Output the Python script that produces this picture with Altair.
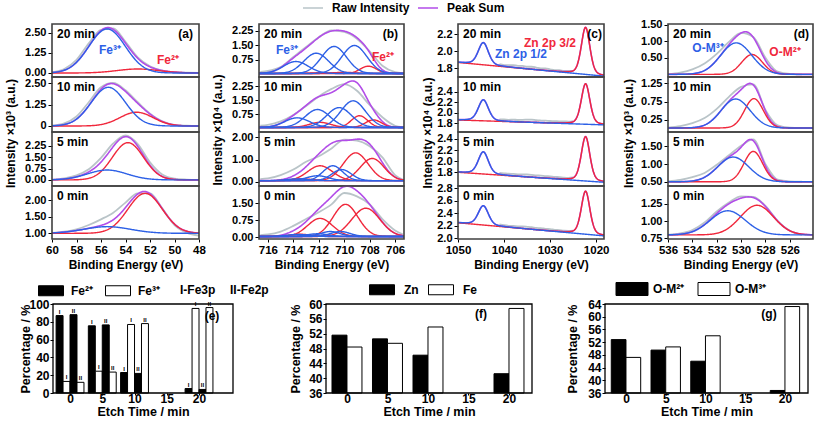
import numpy as np
import pandas as pd
import altair as alt

FONT = "Liberation Sans"
BLUE = "#2d60e6"
RED = "#f0283c"
PURPLE = "#b24de8"
GRAY = "#b9c4c8"
FRAME = "#404040"
W_TOTAL, H_TOTAL = 817, 421

TIMES = ["20 min", "10 min", "5 min", "0 min"]

# layout (pixels)
COL_X = [(52, 199), (259, 404), (458, 604), (668, 813)]
ROW_Y = [(24, 77), (77, 132), (132, 186), (186, 239)]
BAR_X = [(53, 233), (326, 532), (605, 808)]
BAR_Y = (304, 393)

SER_DOM = ["Raw Intensity", "Peak Sum", "B", "R"]
SER_RNG = [GRAY, PURPLE, BLUE, RED]

# ---------------- (a) Fe 3p ----------------
A_XDOM = [60, 48]
A_XTICKS = [60, 58, 56, 54, 52, 50, 48]
A_YDOM = [[-0.25, 3.06], [-0.35, 2.85], [-0.4, 3.15], [0.83, 2.42]]
A_YTICKS = [[0, 1.25, 2.5], [0, 1.25, 2.5], [0, 0.75, 1.5, 2.25], [1.0, 1.5, 2.0]]
A_BASE = [(0.0, 0.0), (0.0, 0.0), (0.0, 0.0), (1.0, 1.0)]
A_FE3 = [[(55.5, 2.75, 3.5)], [(55.4, 2.25, 3.3)], [(55.5, 0.65, 3.8)], [(55.5, 0.20, 4.5)]]
A_FE2 = [[(53.0, 0.25, 4.0)], [(53.1, 0.80, 3.2)], [(53.8, 2.45, 3.0)], [(52.4, 1.20, 3.3)]]
A_RAW_E = [60, 59, 58, 57, 56, 55, 54, 53, 52, 51, 50, 49, 48]
A_RAW = [
    [0.05, 0.25, 0.82, 1.85, 2.70, 2.78, 1.95, 0.98, 0.42, 0.15, 0.05, 0.02, 0.00],
    [0.03, 0.15, 0.55, 1.38, 2.25, 2.50, 2.08, 1.38, 0.72, 0.27, 0.07, 0.02, 0.00],
    [0.02, 0.10, 0.30, 0.70, 1.45, 2.40, 2.92, 2.35, 1.15, 0.35, 0.08, 0.02, 0.00],
    [1.01, 1.05, 1.12, 1.25, 1.42, 1.62, 1.92, 2.20, 2.20, 1.75, 1.25, 1.02, 0.93],
]

# ---------------- (b) Fe 2p ----------------
B_XDOM = [716.7, 705.3]
B_XTICKS = [716, 714, 712, 710, 708, 706]
B_YDOM = [[-0.13, 2.61], [-0.18, 2.73], [-0.19, 2.24], [-0.08, 2.26]]
B_YTICKS = [[0.75, 1.5, 2.25], [0.75, 1.5, 2.25], [0, 1, 2], [0, 0.75, 1.5]]
B_BASE = [(0.05, 0.05), (0.06, 0.06), (0.05, 0.05), (0.03, 0.03)]
B_FE3 = [
    [(713.8, 0.62, 2.3), (712.2, 1.05, 2.3), (710.8, 1.40, 2.3), (709.2, 1.45, 2.3)],
    [(713.7, 0.51, 2.3), (712.1, 0.95, 2.3), (710.4, 1.05, 2.3), (709.3, 1.41, 2.3)],
    [(713.7, 0.08, 2.0), (712.1, 0.22, 2.0), (710.9, 0.67, 1.8), (710.2, 0.50, 1.8)],
    [(713.7, 0.09, 2.0), (712.1, 0.12, 2.0), (711.1, 0.22, 1.8), (710.3, 0.22, 1.8)],
]
B_FE2 = [
    [(708.1, 0.38, 1.5), (710.0, 0.06, 2.0), (711.8, 0.04, 2.0)],
    [(711.9, 0.27, 2.0), (708.8, 0.62, 1.5), (707.7, 0.40, 1.5)],
    [(713.3, 0.08, 2.0), (711.9, 0.67, 2.3), (709.1, 1.25, 2.3), (707.8, 1.00, 2.2)],
    [(713.5, 0.10, 2.0), (711.9, 0.80, 2.3), (709.9, 1.42, 2.3), (708.3, 1.25, 2.6)],
]
B_RAW_E = [716.6, 716, 715, 714, 713, 712, 711, 710, 709, 708, 707, 706, 705.4]
B_RAW = [
    [0.14, 0.18, 0.38, 0.90, 1.42, 1.92, 2.28, 2.20, 1.85, 1.20, 0.45, 0.12, 0.07],
    [0.16, 0.20, 0.38, 0.72, 1.20, 1.70, 2.10, 2.35, 2.00, 1.25, 0.60, 0.15, 0.08],
    [0.12, 0.15, 0.30, 0.55, 0.90, 1.15, 1.50, 1.90, 1.85, 1.60, 1.10, 0.30, 0.10],
    [0.09, 0.12, 0.25, 0.50, 0.80, 1.10, 1.45, 1.95, 1.80, 1.45, 0.80, 0.30, 0.13],
]

# ---------------- (c) Zn 2p ----------------
C_XDOM = [1050, 1018.3]
C_XTICKS = [1050, 1040, 1030, 1020]
C_YDOM = [[1.70, 2.32], [1.635, 2.68], [1.553, 2.526], [1.99, 2.84]]
C_YTICKS = [[1.8, 2.0, 2.2], [1.8, 2.0, 2.2, 2.4], [1.8, 2.0, 2.2, 2.4], [2.0, 2.2, 2.4, 2.6, 2.8]]
C_BASE = [(1.87, 1.71), (1.863, 1.77), (1.80, 1.62), (2.25, 2.04)]
C_ZN12 = [[(1044.5, 0.26, 2.6)], [(1044.5, 0.40, 2.6)], [(1044.5, 0.40, 2.6)], [(1044.5, 0.31, 2.6)]]
C_ZN32 = [[(1022.3, 0.55, 2.2)], [(1022.3, 0.77, 2.2)], [(1022.3, 0.80, 2.2)], [(1022.3, 0.69, 2.2)]]
C_RAW_E = [1041, 1040, 1039, 1038, 1037, 1036, 1035, 1034, 1033, 1032, 1031, 1030, 1029, 1028, 1027, 1026, 1025]
C_RAW = [
    [1.85, 1.84, 1.84, 1.84, 1.83, 1.83, 1.82, 1.82, 1.81, 1.80, 1.80, 1.79, 1.78, 1.78, 1.77, 1.77, 1.77],
    [1.873, 1.873, 1.867, 1.872, 1.863, 1.867, 1.869, 1.871, 1.858, 1.853, 1.851, 1.844, 1.842, 1.836, 1.836, 1.833, 1.843],
    [1.790, 1.782, 1.774, 1.771, 1.764, 1.760, 1.760, 1.754, 1.743, 1.741, 1.731, 1.726, 1.717, 1.713, 1.705, 1.701, 1.708],
    [2.223, 2.211, 2.202, 2.199, 2.194, 2.192, 2.186, 2.179, 2.168, 2.164, 2.153, 2.148, 2.137, 2.132, 2.123, 2.121, 2.125],
]

# ---------------- (d) O 1s ----------------
D_XDOM = [536, 524.1]
D_XTICKS = [536, 534, 532, 530, 528, 526]
D_YDOM = [[-0.08, 1.52], [-0.08, 1.42], [0.38, 1.91], [0.74, 1.51]]
D_YTICKS = [[0.5, 1.0, 1.5], [0.25, 0.75, 1.25], [0.5, 1.0, 1.5], [0.75, 1.0, 1.25]]
D_BASE = [(0.0, 0.0), (0.03, 0.03), (0.5, 0.5), (0.8, 0.8)]
D_M3 = [[(530.4, 0.95, 3.0)], [(530.45, 0.79, 2.8)], [(530.65, 0.70, 3.0)], [(531.1, 0.35, 3.4)]]
D_M2 = [[(529.1, 0.60, 2.0)], [(528.95, 0.80, 1.8)], [(529.0, 0.86, 1.8)], [(528.7, 0.43, 3.2)]]
D_RAW_E = [536, 535, 534, 533, 532, 531, 530, 529, 528, 527, 526, 525]
D_RAW = [
    [0.00, 0.05, 0.15, 0.33, 0.62, 0.98, 1.25, 1.13, 0.50, 0.08, 0.01, 0.00],
    [0.04, 0.08, 0.16, 0.30, 0.55, 0.88, 1.15, 1.22, 0.52, 0.10, 0.04, 0.03],
    [0.51, 0.55, 0.63, 0.75, 0.98, 1.25, 1.52, 1.70, 1.00, 0.56, 0.51, 0.50],
    [0.80, 0.82, 0.87, 0.98, 1.14, 1.27, 1.36, 1.35, 1.22, 1.00, 0.86, 0.80],
]

# ---------------- bar panels ----------------
ETCH = [0, 5, 10, 20]
E_FE2_I = [87, 75.5, 23, 5]
E_FE3_I = [13, 24.5, 77, 95]
E_FE2_II = [88, 76.5, 22, 4]
E_FE3_II = [12, 23.5, 78, 96]
E_KINDS = ["Fe²⁺", "Fe³⁺"]
E_GROUPS = ["I", "II"]
F_ZN = [51.6, 50.6, 46.2, 41.2]
F_FE = [48.4, 49.4, 53.8, 58.8]
F_KINDS = ["Zn", "Fe"]
G_M2 = [52.8, 49.5, 46.0, 36.8]
G_M3 = [47.2, 50.5, 54.0, 63.2]
G_KINDS = ["O-M²⁺", "O-M³⁺"]


def gauss(E, c, h, w):
    return h * np.exp(-4 * np.log(2) * ((E - c) / w) ** 2)


def pvoigt(E, c, h, w, eta=0.3):
    x = (E - c) / (w / 2)
    return h * ((1 - eta) * np.exp(-np.log(2) * x ** 2) + eta / (1 + x ** 2))


COLS = [
    dict(letter="(a)", lx=193, xdom=A_XDOM, xticks=A_XTICKS, ydom=A_YDOM, yticks=A_YTICKS,
         fmt=".2f", base=A_BASE, blue=A_FE3, red=A_FE2, rawE=A_RAW_E, raw=A_RAW, prof=gauss,
         npts=241, ytitle="Intensity ×10³ (a.u.)", ytx=-42, yty=133,
         labels=[("Fe³⁺", 110, 50, BLUE), ("Fe²⁺", 168, 60, RED)]),
    dict(letter="(b)", lx=398, xdom=B_XDOM, xticks=B_XTICKS, ydom=B_YDOM, yticks=B_YTICKS,
         fmt=".2f", base=B_BASE, blue=B_FE3, red=B_FE2, rawE=B_RAW_E, raw=B_RAW, prof=gauss,
         npts=241, ytitle="Intensity ×10⁴ (a.u.)", ytx=-42, yty=129.5,
         labels=[("Fe³⁺", 287, 50, BLUE), ("Fe²⁺", 383, 57, RED)]),
    dict(letter="(c)", lx=602, xdom=C_XDOM, xticks=C_XTICKS, ydom=C_YDOM, yticks=C_YTICKS,
         fmt=".1f", base=C_BASE, blue=C_ZN12, red=C_ZN32, rawE=C_RAW_E, raw=C_RAW, prof=pvoigt,
         npts=401, ytitle="Intensity ×10⁴ (a.u.)", ytx=-31, yty=132.5,
         labels=[("Zn 2p 3/2", 550, 43, RED), ("Zn 2p 1/2", 521, 54, BLUE)]),
    dict(letter="(d)", lx=809, xdom=D_XDOM, xticks=D_XTICKS, ydom=D_YDOM, yticks=D_YTICKS,
         fmt=".2f", base=D_BASE, blue=D_M3, red=D_M2, rawE=D_RAW_E, raw=D_RAW, prof=gauss,
         npts=241, ytitle="Intensity ×10³ (a.u.)", ytx=-40, yty=133,
         labels=[("O-M³⁺", 708, 48, BLUE), ("O-M²⁺", 785, 52, RED)]),
]

TOP_LEGEND = alt.Legend(
    title=None, orient="none", legendX=302, legendY=-3, direction="horizontal",
    values=["Raw Intensity", "Peak Sum"], symbolType="stroke", symbolSize=400,
    symbolStrokeWidth=1.5, labelFont=FONT, labelFontSize=12, labelFontWeight="bold",
    labelColor="black", labelOffset=8, columnPadding=5)


def text_layer(txt, x, y, color="black", align="left", size=12):
    return alt.Chart(pd.DataFrame({"t": [txt]})).mark_text(
        align=align, baseline="middle", font=FONT, fontSize=size,
        fontWeight="bold", color=color
    ).encode(text="t:N", x=alt.value(x), y=alt.value(y))


def spectrum(ci, r):
    p = COLS[ci]
    xr, yr = COL_X[ci], ROW_Y[r]
    xdom, ydom = p["xdom"], p["ydom"][r]
    base = p["base"][r]
    E = np.linspace(xdom[0], xdom[1], p["npts"])
    bg = base[0] + (base[1] - base[0]) * (E - xdom[0]) / (xdom[1] - xdom[0])
    tot = bg.copy()
    frames = {"B": [], "R": []}
    for cls, comps in (("B", p["blue"][r]), ("R", p["red"][r])):
        for k, (c, h, w) in enumerate(comps):
            y = p["prof"](E, c, h, w)
            tot = tot + y
            frames[cls].append(pd.DataFrame({"E": E, "I": bg + y, "key": f"{cls}{k}", "ser": cls}))
    sum_df = pd.DataFrame({"E": E, "I": tot, "ser": "Peak Sum"})
    raw_df = pd.DataFrame({"E": p["rawE"], "I": p["raw"][r], "ser": "Raw Intensity"})
    box_df = pd.DataFrame({"E": [xdom[0]], "E2": [xdom[1]], "I": [ydom[0]], "I2": [ydom[1]]})

    sx = alt.Scale(domain=xdom, range=[xr[0], xr[1]], nice=False, zero=False)
    sy = alt.Scale(domain=ydom, range=[yr[1], yr[0]], nice=False, zero=False)
    if r == 3:
        xax = alt.Axis(orient="bottom", offset=yr[1] - H_TOTAL, values=p["xticks"], format="d",
                       title="Binding Energy (eV)", tickSize=3, labelPadding=2, titlePadding=4,
                       labelOverlap=False, labelFlush=False, labelFontSize=11.5)
    else:
        xax = None
    kw = dict(orient="left", offset=-xr[0], values=p["yticks"][r], format=p["fmt"],
              tickSize=4, labelPadding=2, title=None, labelOverlap=False,
              labelFlush=False, labelFontSize=11)
    if ci == 0 and r == 1:
        kw["labelExpr"] = "datum.value == 0 ? '0' : format(datum.value, '.2f')"
    if r == 1:
        kw.update(title=p["ytitle"], titleX=p["ytx"], titleY=p["yty"], titleAngle=270,
                  titleAlign="center", titleBaseline="middle")
    X = alt.X("E:Q", scale=sx, axis=xax)
    Y = alt.Y("I:Q", scale=sy, axis=alt.Axis(**kw))
    C = alt.Color("ser:N", scale=alt.Scale(domain=SER_DOM, range=SER_RNG), legend=TOP_LEGEND)
    layers = [
        alt.Chart(raw_df).mark_line(strokeWidth=1.8, interpolate="monotone").encode(x=X, y=Y, color=C),
        alt.Chart(sum_df).mark_line(strokeWidth=1.6).encode(x=X, y=Y, color=C),
    ]
    for cls in ("R", "B"):
        if frames[cls]:
            layers.append(alt.Chart(pd.concat(frames[cls])).mark_line(strokeWidth=1.4)
                          .encode(x=X, y=Y, color=C, detail="key:N"))
    layers.append(alt.Chart(box_df).mark_rect(fill="transparent", stroke=FRAME, strokeWidth=1.6)
                  .encode(x=X, x2="E2:Q", y=Y, y2="I2:Q"))
    layers.append(text_layer(TIMES[r], xr[0] + 5, yr[0] + 10))
    if r == 0:
        layers.append(text_layer(p["letter"], p["lx"], yr[0] + 10, "black", "right"))
        for (t, x, y, col) in p["labels"]:
            layers.append(text_layer(t, x, y, col, "center"))
    return alt.layer(*layers)


RECT_E = "M-1.25,-0.5H1.25V0.5H-1.25Z"
RECT_G = "M-1.6,-0.65H1.6V0.65H-1.6Z"


def bar_legend(x, y, path, lo, cp):
    return alt.Legend(title=None, orient="none", legendX=x, legendY=y, direction="horizontal",
                      symbolType=path, symbolSize=400, symbolStrokeColor="black",
                      symbolStrokeWidth=1, labelFont=FONT, labelFontSize=12,
                      labelFontWeight="bold", labelColor="black", labelOffset=lo,
                      columnPadding=cp)


def bar_panel(bi, df, xdom, ydom, yticks, kinds, leg, texts, title_x, labels=False):
    xr = BAR_X[bi]
    sx = alt.Scale(domain=xdom, range=[xr[0], xr[1]], nice=False, zero=False)
    sy = alt.Scale(domain=ydom, range=[BAR_Y[1], BAR_Y[0]], nice=False, zero=False)
    xax = alt.Axis(orient="bottom", offset=BAR_Y[1] - H_TOTAL, values=[0, 5, 10, 15, 20],
                   format="d", title="Etch Time / min", tickSize=2, labelPadding=-2,
                   titlePadding=1, titleFontSize=12.5, labelOverlap=False, labelFlush=False)
    yax = alt.Axis(orient="left", offset=-xr[0], values=yticks, format="d",
                   title="Percentage / %", titleFontSize=12.5, tickSize=3, labelPadding=1,
                   titleX=title_x, titleY=(BAR_Y[0] + BAR_Y[1]) / 2, titleAngle=270,
                   titleAlign="center", titleBaseline="middle", labelOverlap=False,
                   labelFlush=False)
    bars = alt.Chart(df).mark_bar(stroke="black", strokeWidth=1, opacity=1).encode(
        x=alt.X("x0:Q", scale=sx, axis=xax), x2="x1:Q",
        y=alt.Y("v:Q", scale=sy, axis=yax), y2=alt.datum(ydom[0]),
        fill=alt.Fill("kind:N", scale=alt.Scale(domain=kinds, range=["black", "white"]), legend=leg))
    layers = [bars]
    if labels:
        layers.append(alt.Chart(df).mark_text(fontSize=6, fontWeight="bold", font=FONT, dy=-4,
                                              baseline="middle", color="black").encode(
            x=alt.X("xc:Q", scale=sx, axis=xax), y=alt.Y("v:Q", scale=sy, axis=yax), text="g:N"))
    box_df = pd.DataFrame({"x0": [xdom[0]], "x1": [xdom[1]], "v": [ydom[0]], "v2": [ydom[1]]})
    layers.append(alt.Chart(box_df).mark_rect(fill="transparent", stroke="black", strokeWidth=1.3)
                  .encode(x=alt.X("x0:Q", scale=sx, axis=xax), x2="x1:Q",
                          y=alt.Y("v:Q", scale=sy, axis=yax), y2="v2:Q"))
    layers += [text_layer(*t) for t in texts]
    return alt.layer(*layers)


E_BW = 1.08
erows = []
for i, t in enumerate(ETCH):
    series = [(E_FE2_I[i], E_KINDS[0], E_GROUPS[0]), (E_FE3_I[i], E_KINDS[1], E_GROUPS[0]),
              (E_FE2_II[i], E_KINDS[0], E_GROUPS[1]), (E_FE3_II[i], E_KINDS[1], E_GROUPS[1])]
    for k, (v, kind, g) in enumerate(series):
        x0 = t + (k - 2) * E_BW
        erows.append({"x0": x0, "x1": x0 + E_BW, "xc": x0 + E_BW / 2, "v": v, "kind": kind, "g": g})
e_df = pd.DataFrame(erows)


def pair_df(a, b, kinds, bw):
    rows = []
    for t, va, vb in zip(ETCH, a, b):
        rows.append({"x0": t - bw, "x1": t, "v": va, "kind": kinds[0]})
        rows.append({"x0": t, "x1": t + bw, "v": vb, "kind": kinds[1]})
    return pd.DataFrame(rows)


f_df = pair_df(F_ZN, F_FE, F_KINDS, 1.85)
g_df = pair_df(G_M2, G_M3, G_KINDS, 1.85)

panels = []
for ci in range(4):
    for r in range(4):
        panels.append(spectrum(ci, r))

panels.append(bar_panel(0, e_df, [-2.64, 25.27], [0, 100], [0, 20, 40, 60, 80, 100], E_KINDS,
                        bar_legend(40.5, 280, RECT_E, 9.5, 10),
                        [("(e)", 212, 316, "black", "center"), ("I-Fe3p", 180, 290),
                         ("II-Fe2p", 230, 290)], -28, labels=True))
panels.append(bar_panel(1, f_df, [-2.59, 22.84], [36, 60], [36, 40, 44, 48, 52, 56, 60], F_KINDS,
                        bar_legend(371.5, 279, RECT_E, 11.5, 7),
                        [("(f)", 481, 314, "black", "center")], -31))
panels.append(bar_panel(2, g_df, [-2.64, 22.9], [36, 64], [36, 40, 44, 48, 52, 56, 60, 64], G_KINDS,
                        bar_legend(621.5, 278.5, RECT_G, 10.5, 11),
                        [("(g)", 769, 314, "black", "center")], -33))

chart = alt.layer(*panels).resolve_scale(
    x="independent", y="independent", fill="independent"
).resolve_legend(
    fill="independent"
).properties(
    width=W_TOTAL, height=H_TOTAL, padding=0,
    autosize=alt.AutoSizeParams(type="none")
).configure_view(
    strokeWidth=0
).configure_axis(
    labelFont=FONT, labelFontSize=12, labelFontWeight="bold", labelColor="black",
    titleFont=FONT, titleFontSize=12, titleFontWeight="bold", titleColor="black",
    domain=False, grid=False, tickColor="black", tickWidth=1
)

chart.save("out.html", embed_options={"renderer": "svg", "actions": False})
